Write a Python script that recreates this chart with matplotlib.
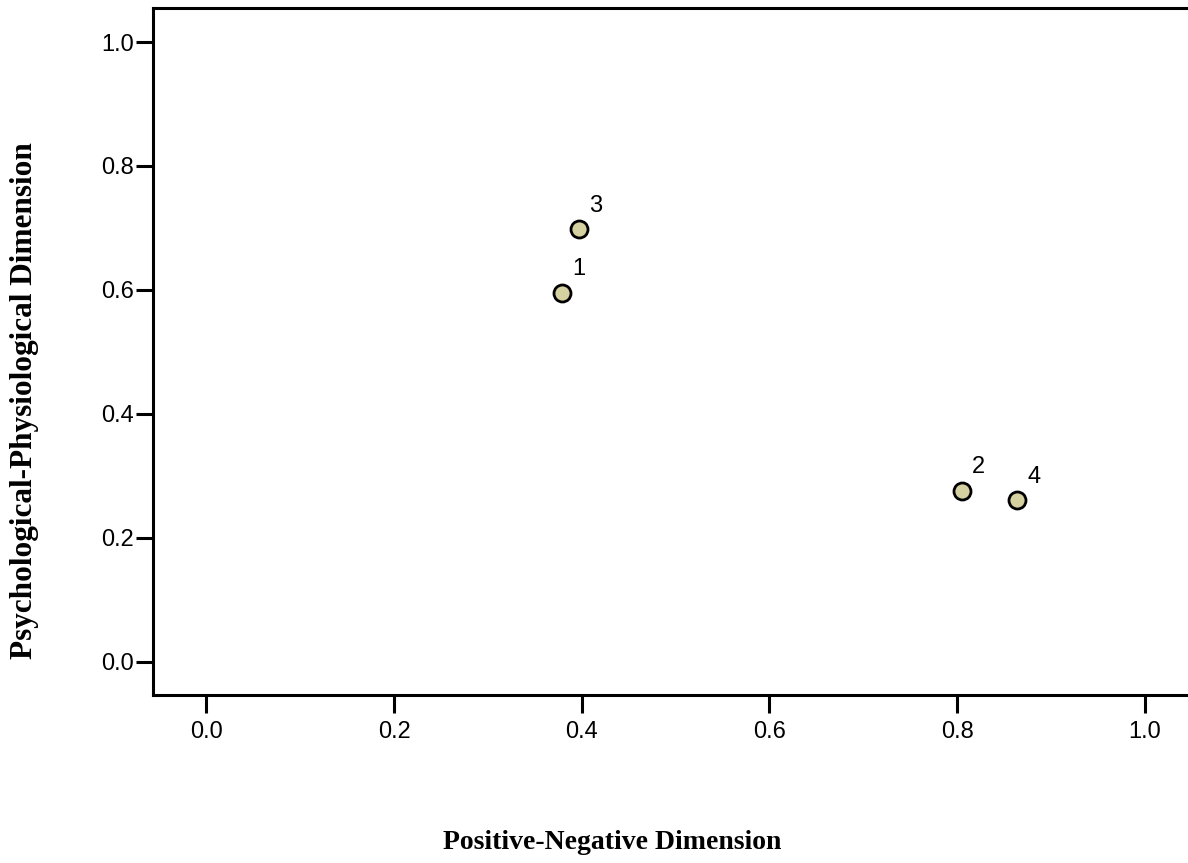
import matplotlib
matplotlib.use('Agg')
import matplotlib.pyplot as plt

# case coordinates
labels = ['1', '2', '3', '4']
x_vals = [0.379, 0.805, 0.397, 0.864]
y_vals = [0.595, 0.276, 0.698, 0.260]
ticks = [0.0, 0.2, 0.4, 0.6, 0.8, 1.0]

fig = plt.figure(figsize=(11.88, 8.63), dpi=100)
ax = fig.add_axes([153 / 1188, 168 / 863, 1 - 153 / 1188, (695 - 8) / 863])

ax.scatter(x_vals, y_vals, s=150, facecolor='#d6d1a0', edgecolor='black',
           linewidth=2.0, zorder=3)
for lab, x, y in zip(labels, x_vals, y_vals):
    ax.annotate(lab, (x, y), xytext=(12, 17), textcoords='offset points',
                ha='center', va='center', fontsize=17, family='Liberation Sans')

ax.set_xlim(-0.057, 1.046)
ax.set_ylim(-0.054, 1.055)
ax.set_xticks(ticks)
ax.set_yticks(ticks)
ax.set_xticklabels([f'{t:.1f}' for t in ticks])
ax.set_yticklabels([f'{t:.1f}' for t in ticks])

for side in ['left', 'bottom', 'top']:
    ax.spines[side].set_linewidth(2.2)
ax.spines['right'].set_visible(False)
ax.tick_params(direction='out', width=2.2, labelsize=17)
ax.tick_params(axis='x', length=13, pad=6)
ax.tick_params(axis='y', length=12, pad=2)
for t in ax.get_xticklabels() + ax.get_yticklabels():
    t.set_family('Liberation Sans')

ax.set_xlabel('Positive-Negative Dimension', family='Liberation Serif',
              fontweight='bold', fontsize=20, va='center')
ax.xaxis.set_label_coords(0.4435, -0.215)
ax.set_ylabel('Psychological-Physiological Dimension', family='Liberation Serif',
              fontweight='bold', fontsize=22.5, va='center')
ax.yaxis.set_label_coords(-0.1237, 0.429)

plt.savefig('out.png', dpi=100)
